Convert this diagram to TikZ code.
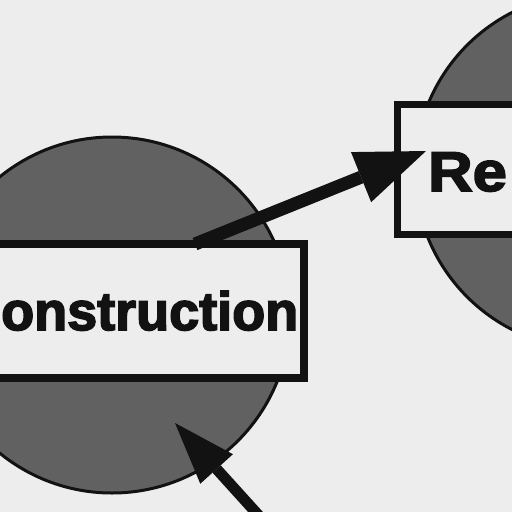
\documentclass[tikz,border=0pt]{standalone}
\usepackage{fontspec}
\setmainfont{Liberation Sans}
\usetikzlibrary{arrows.meta}
\definecolor{paper}{gray}{0.93}
\definecolor{shade}{gray}{0.38}
\definecolor{ink}{gray}{0.07}
\begin{document}
\begin{tikzpicture}[x=1pt,y=-1pt,
  circ/.style={circle, draw=ink, line width=3pt, fill=shade, inner sep=0pt},
  box/.style={rectangle, draw=ink, line width=8pt, fill=paper, inner sep=0pt},
  lbl/.style={inner sep=0pt, text=ink},
  conn/.style={draw=ink, line width=13pt}]
\useasboundingbox (0,0) rectangle (512,512);
\clip (0,0) rectangle (512,512);
\fill[paper] (0,0) rectangle (512,512);
% circles
\node[circ, minimum size=356pt] (lc) at (112,315) {};
\node[circ, minimum size=356pt] (rc) at (593,171) {};
% boxes
\node[box, minimum width=344pt, minimum height=134pt] (lb) at (132,311) {};
\node[box, line width=7pt, minimum width=170pt, minimum height=130pt] (rb) at (482,169) {};
% texts
\node[lbl, anchor=base west, font=\fontsize{54}{60}\selectfont\bfseries\addfontfeatures{FakeBold=3}] (t1) at (1,330) {onstruction};
\node[lbl, anchor=base west, font=\fontsize{56}{60}\selectfont\bfseries\addfontfeatures{FakeBold=3,FakeStretch=1.1}] (t2) at (428,191) {Re};
% connectors
\coordinate (a1s) at (195,244);
\coordinate (a1e) at (426,151);
\draw[conn, -{Triangle[length=70pt,width=54pt,line width=0pt]}] (a1s) -- (a1e);
\coordinate (a2s) at (270,528);
\coordinate (a2e) at (175,423);
\draw[conn, line width=11pt, -{Triangle[length=62pt,width=44pt,line width=0pt]}] (a2s) -- (a2e);
\end{tikzpicture}
\end{document}
